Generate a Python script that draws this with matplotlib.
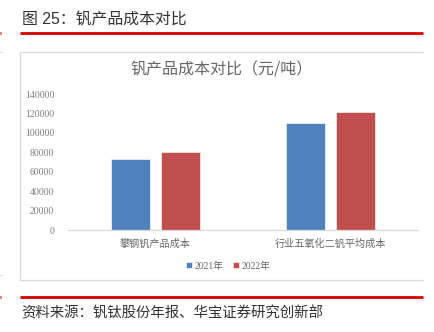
import matplotlib
matplotlib.use("Agg")
import matplotlib.pyplot as plt
from matplotlib.lines import Line2D
import numpy as np

plt.rcParams['font.family'] = ['Liberation Serif', 'Noto Sans CJK SC', 'DejaVu Sans']

categories = ['攀钢钒产品成本', '行业五氧化二钒平均成本']
series_names = ['2021年', '2022年']
cost_2021 = [73000, 110000]
cost_2022 = [80000, 121500]
y_ticks = [0, 20000, 40000, 60000, 80000, 100000, 120000, 140000]

W, H = 435, 332
fig = plt.figure(figsize=(W / 100, H / 100), dpi=100)


def fx(px):
    return px / W


def fy(py):
    return 1 - py / H


def hline(x0, x1, y, color, lw):
    fig.add_artist(Line2D([fx(x0), fx(x1)], [fy(y), fy(y)], color=color, lw=lw,
                          transform=fig.transFigure, solid_capstyle='butt'))


def vline(x, y0, y1, color, lw):
    fig.add_artist(Line2D([fx(x), fx(x)], [fy(y0), fy(y1)], color=color, lw=lw,
                          transform=fig.transFigure, solid_capstyle='butt'))


# page header
fig.text(fx(22), fy(20), '图 25：钒产品成本对比', fontsize=11.4,
         family=['Liberation Sans', 'Noto Sans CJK SC'], color='#333333',
         ha='left', va='center')
hline(20, 423, 33.3, '#d40000', 2.0)
hline(0, 1.5, 33.3, '#d40000', 2.0)

# chart frame
hline(20, 423, 52, '#d9d9d9', 0.9)
vline(20.5, 52, 280, '#d9d9d9', 0.9)
hline(20, 423, 280, '#d9d9d9', 0.9)
hline(0, 2, 52, '#d9d9d9', 0.9)
hline(0, 2, 275, '#d9d9d9', 0.9)

# footer
hline(20, 423, 297, '#d40000', 2.0)
hline(0, 1.5, 297, '#d40000', 2.0)
fig.text(fx(21), fy(313), '资料来源：钒钛股份年报、华宝证券研究创新部', fontsize=10.4,
         family=['Noto Sans CJK SC'], color='#333333', ha='left', va='center')

# chart title
fig.text(fx(222), fy(70), '钒产品成本对比（元/吨）', fontsize=11.5,
         family=['Noto Sans CJK SC'], color='#666666', ha='center', va='center')

ax = fig.add_axes([fx(68), fy(230), fx(418) - fx(68), (230 - 94) / H])
x = np.arange(len(categories))
offset, width = 0.143, 0.225
b1 = ax.bar(x - offset, cost_2021, width, color='#4f81bd', edgecolor='#e8eef6',
            linewidth=0.6, label=series_names[0])
b2 = ax.bar(x + offset, cost_2022, width, color='#c0504d', edgecolor='#f4e4e4',
            linewidth=0.6, label=series_names[1])

ax.set_xlim(-0.5, 1.5)
ax.set_ylim(0, 140000)
ax.set_yticks(y_ticks)
ax.set_yticklabels([str(v) for v in y_ticks])
ax.set_xticks(x)
ax.set_xticklabels(categories, family=['Noto Sans CJK SC'], fontsize=7.3,
                   color='#666666')
ax.tick_params(axis='y', length=0, pad=10, labelsize=7, labelcolor='#7f7f7f')
ax.tick_params(axis='x', length=0, pad=6)
for s in ['left', 'right', 'top']:
    ax.spines[s].set_visible(False)
ax.spines['bottom'].set_color('#d9d9d9')
ax.spines['bottom'].set_linewidth(0.9)
ax.patch.set_alpha(0)

fig.legend(handles=[b1, b2], labels=series_names, loc='center',
           bbox_to_anchor=(fx(228), fy(266)), ncol=2, frameon=False,
           fontsize=7, handlelength=0.6, handleheight=0.6, handletextpad=0.25,
           columnspacing=1.0, labelcolor='#666666')

fig.savefig('out.png', dpi=100)
